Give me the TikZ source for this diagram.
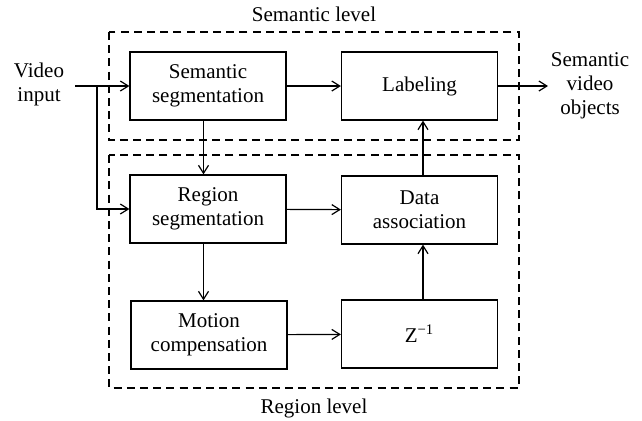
\documentclass[tikz,border=0pt]{standalone}
\usepackage{fontspec}
\setmainfont{Liberation Serif}
\usetikzlibrary{arrows.meta}
\begin{document}
\begin{tikzpicture}[x=0.5pt, y=-0.5pt, line width=0.6pt, font=\fontsize{10.5}{12}\selectfont]
      \tikzset{
	  block/.style={rectangle, draw=black, minimum width=78pt, minimum height=34pt, align=center, inner sep=0pt},
	  level/.style={draw=black, dash pattern=on 4pt off 2.6pt},
	  flow/.style={-{Straight Barb[length=4pt, width=5pt]}},
	  plain/.style={align=center, inner sep=0pt}
      }
      \useasboundingbox (0, 0) rectangle (642, 420);

      \draw [level] (109, 32) rectangle (519, 140);
      \draw [level] (109, 155) rectangle (519, 388);
      \node at (314, 14) [plain] (semlevel) {Semantic level};
      \node at (314, 408) [plain] (reglevel) {Region level};

      \node at (208, 86) [block] (semseg) {Semantic\\segmentation};
      \node at (419.5, 86) [block] (label) {Labeling};
      \node at (208, 209) [block] (regseg) {Region\\segmentation};
      \node at (419.5, 210) [block] (assoc) {Data\\association};
      \node at (209, 335) [block] (motion) {Motion\\compensation};
      \node at (419.5, 334) [block] (delay) {Z\textsuperscript{\char"2212 1}};

      \node at (39, 84) [plain] (video) {Video\\input};
      \node at (590, 86) [plain] (objects) {Semantic\\video\\objects};
      \coordinate (in) at (75, 86);
      \coordinate (split) at (97, 86);
      \coordinate (out) at (548, 86);

      \draw [flow] (in) -- (semseg);
      \draw [flow] (split) |- (regseg);
      \draw [flow] (semseg) -- (label);
      \draw [flow] (label) -- (out);
      \draw [flow] ([xshift=-2.25pt]semseg.south) -- ([xshift=-2.25pt]regseg.north);
      \draw [flow] ([xshift=-2.25pt]regseg.south) -- ([xshift=-2.75pt]motion.north);
      \draw [flow] (regseg) -- (assoc);
      \draw [flow] (motion) -- (delay);
      \draw [flow] ([xshift=1.75pt]delay.north) -- ([xshift=1.75pt]assoc.south);
      \draw [flow] ([xshift=1.75pt]assoc.north) -- ([xshift=1.75pt]label.south);
    \end{tikzpicture}
\end{document}
